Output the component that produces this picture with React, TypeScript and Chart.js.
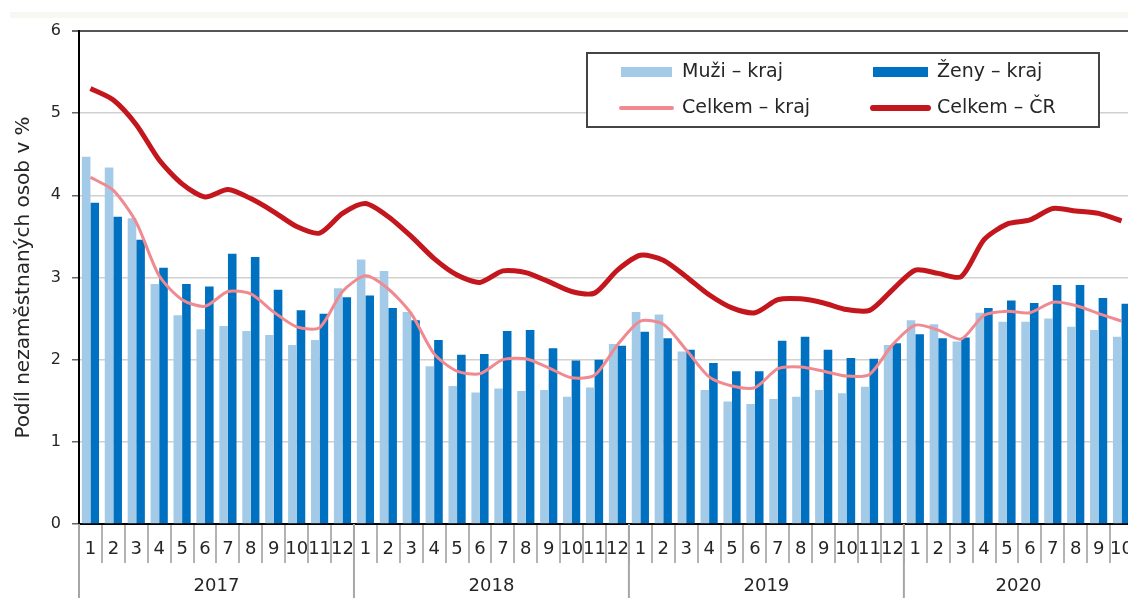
import React, { useEffect, useRef } from 'react';
import { Chart, registerables } from 'chart.js';

Chart.register(...registerables);

const months = [
  '1', '2', '3', '4', '5', '6', '7', '8', '9', '10', '11', '12',
  '1', '2', '3', '4', '5', '6', '7', '8', '9', '10', '11', '12',
  '1', '2', '3', '4', '5', '6', '7', '8', '9', '10', '11', '12',
  '1', '2', '3', '4', '5', '6', '7', '8', '9', '10',
];
const years = ['2017', '2018', '2019', '2020'];
const yearLengths = [12, 12, 12, 10];

const muzi = [
  4.47, 4.34, 3.72, 2.92, 2.54, 2.37, 2.41, 2.35, 2.30, 2.18, 2.24, 2.87,
  3.22, 3.08, 2.58, 1.92, 1.68, 1.60, 1.65, 1.62, 1.63, 1.55, 1.66, 2.19,
  2.58, 2.55, 2.10, 1.63, 1.49, 1.46, 1.52, 1.55, 1.63, 1.59, 1.67, 2.18,
  2.48, 2.43, 2.22, 2.57, 2.46, 2.46, 2.50, 2.40, 2.36, 2.28,
];
const zeny = [
  3.91, 3.74, 3.46, 3.12, 2.92, 2.89, 3.29, 3.25, 2.85, 2.60, 2.56, 2.76,
  2.78, 2.63, 2.48, 2.24, 2.06, 2.07, 2.35, 2.36, 2.14, 1.99, 2.00, 2.17,
  2.34, 2.26, 2.12, 1.96, 1.86, 1.86, 2.23, 2.28, 2.12, 2.02, 2.01, 2.20,
  2.31, 2.26, 2.27, 2.63, 2.72, 2.69, 2.91, 2.91, 2.75, 2.68,
];
const celkemKraj = [
  4.22, 4.06, 3.67, 3.02, 2.73, 2.65, 2.83, 2.80, 2.58, 2.40, 2.39, 2.83,
  3.02, 2.86, 2.56, 2.07, 1.86, 1.83, 2.00, 2.01, 1.90, 1.78, 1.81, 2.18,
  2.47, 2.43, 2.12, 1.79, 1.68, 1.66, 1.89, 1.91, 1.86, 1.80, 1.82, 2.18,
  2.42, 2.36, 2.25, 2.54, 2.59, 2.57, 2.70, 2.66, 2.56, 2.47,
];
const celkemCR = [
  5.30, 5.16, 4.86, 4.43, 4.14, 3.98, 4.07, 3.96, 3.80, 3.62, 3.54, 3.78,
  3.90, 3.74, 3.50, 3.23, 3.03, 2.94, 3.08, 3.06, 2.95, 2.83, 2.81, 3.09,
  3.27, 3.21, 3.01, 2.79, 2.63, 2.57, 2.73, 2.74, 2.69, 2.61, 2.60, 2.85,
  3.09, 3.05, 3.01, 3.46, 3.65, 3.70, 3.84, 3.81, 3.78, 3.69,
];
const seriesLabels = ['Muži – kraj', 'Ženy – kraj', 'Celkem – kraj', 'Celkem – ČR'];
const yTitle = 'Podíl nezaměstnaných osob v %';

const FONT = "'DejaVu Sans', Verdana, sans-serif";
const LIGHT = '#a3cbe8';
const DARK = '#0070c0';
const PINK = '#f08a90';
const RED = '#c3161d';
const TEXT = '#262626';

const bandPlugin = {
  id: 'band',
  beforeDraw(chart: any) {
    const ctx = chart.ctx;
    ctx.save();
    ctx.fillStyle = '#f8f8f3';
    ctx.fillRect(10, 12, chart.width, 6);
    ctx.restore();
  },
};

const yearPlugin = {
  id: 'yearAxis',
  afterDraw(chart: any) {
    const x = chart.scales.x;
    const area = chart.chartArea;
    const ctx = chart.ctx;
    const half = (x.getPixelForValue(1) - x.getPixelForValue(0)) / 2;
    let start = 0;
    ctx.save();
    years.forEach((yr, i) => {
      const n = yearLengths[i];
      const left = x.getPixelForValue(start) - half;
      const right = x.getPixelForValue(start + n - 1) + half;
      ctx.strokeStyle = '#a6a6a6';
      ctx.lineWidth = 2;
      ctx.beginPath();
      ctx.moveTo(left, area.bottom);
      ctx.lineTo(left, chart.height);
      ctx.stroke();
      ctx.fillStyle = TEXT;
      ctx.font = `18px ${FONT}`;
      ctx.textAlign = 'center';
      ctx.textBaseline = 'middle';
      ctx.fillText(yr, (left + right) / 2, area.bottom + 62);
      start += n;
    });
    ctx.restore();
  },
};

const legendPlugin = {
  id: 'boxLegend',
  afterDraw(chart: any) {
    const ctx = chart.ctx;
    const box = { left: 587, top: 53, right: 1099, bottom: 127 };
    const rows = [72, 108];
    const swatchX = [[621, 672], [873, 928]];
    const textX = [682, 937];
    ctx.save();
    ctx.fillStyle = '#ffffff';
    ctx.fillRect(box.left, box.top, box.right - box.left, box.bottom - box.top);
    ctx.strokeStyle = '#444';
    ctx.lineWidth = 2;
    ctx.strokeRect(box.left, box.top, box.right - box.left, box.bottom - box.top);
    chart.data.datasets.forEach((ds: any, i: number) => {
      const col = i % 2;
      const row = Math.floor(i / 2);
      const y = rows[row];
      const [sx0, sx1] = swatchX[col];
      if (ds.type === 'bar') {
        ctx.fillStyle = ds.backgroundColor;
        ctx.fillRect(sx0, y - 5, sx1 - sx0, 10);
      } else {
        ctx.strokeStyle = ds.borderColor;
        ctx.lineWidth = ds.borderWidth + 1;
        ctx.lineCap = 'round';
        ctx.beginPath();
        ctx.moveTo(sx0, y);
        ctx.lineTo(sx1, y);
        ctx.stroke();
      }
      ctx.fillStyle = TEXT;
      ctx.font = `19px ${FONT}`;
      ctx.textAlign = 'left';
      ctx.textBaseline = 'middle';
      ctx.fillText(ds.label, textX[col], y);
    });
    ctx.restore();
  },
};

export default function App() {
  const ref = useRef<HTMLCanvasElement | null>(null);

  useEffect(() => {
    if (!ref.current) return;
    const chart = new Chart(ref.current, {
      type: 'bar',
      data: {
        labels: months,
        datasets: [
          { type: 'bar', label: seriesLabels[0], data: muzi, backgroundColor: LIGHT, order: 3, categoryPercentage: 0.75, barPercentage: 1 } as any,
          { type: 'bar', label: seriesLabels[1], data: zeny, backgroundColor: DARK, order: 3, categoryPercentage: 0.75, barPercentage: 1 } as any,
          { type: 'line', label: seriesLabels[2], data: celkemKraj, borderColor: PINK, backgroundColor: PINK, borderWidth: 3, pointRadius: 0, tension: 0.25, order: 2 } as any,
          { type: 'line', label: seriesLabels[3], data: celkemCR, borderColor: RED, backgroundColor: RED, borderWidth: 5, pointRadius: 0, tension: 0.25, order: 1 } as any,
        ],
      },
      options: {
        responsive: false,
        animation: false,
        devicePixelRatio: 1,
        layout: { padding: { top: 31, right: 3, left: 0, bottom: 0 } },
        plugins: { legend: { display: false }, tooltip: { enabled: false } },
        scales: {
          x: {
            offset: true,
            grid: { offset: true, drawOnChartArea: false, tickLength: 39, color: '#b3b3b3', lineWidth: 2 },
            border: { display: true, color: '#000', width: 2 },
            ticks: { autoSkip: false, maxRotation: 0, minRotation: 0, padding: -24, color: TEXT, font: { family: FONT, size: 18 } },
            afterFit: (s: any) => { s.height = 74; },
          },
          y: {
            min: 0,
            max: 6,
            ticks: { stepSize: 1, padding: 11, color: TEXT, font: { family: FONT, size: 16 } },
            grid: {
              color: (c: any) => (c.tick && c.tick.value === 6 ? '#555' : '#d0d0d0'),
              lineWidth: (c: any) => (c.tick && c.tick.value === 6 ? 2 : 1.5),
              tickLength: 7,
              tickColor: '#666',
            },
            border: { display: true, color: '#000', width: 2 },
            title: { display: true, text: yTitle, color: TEXT, font: { family: FONT, size: 20 }, padding: { top: 12, bottom: 0 } },
            afterFit: (s: any) => { s.width = 79; },
          },
        },
      } as any,
      plugins: [bandPlugin, yearPlugin, legendPlugin],
    });
    return () => chart.destroy();
  }, []);

  return (
    <div style={{ position: 'fixed', left: 0, top: 0, width: 1136, height: 598, overflow: 'hidden', background: '#fff' }}>
      <canvas ref={ref} width={1136} height={598} />
    </div>
  );
}
